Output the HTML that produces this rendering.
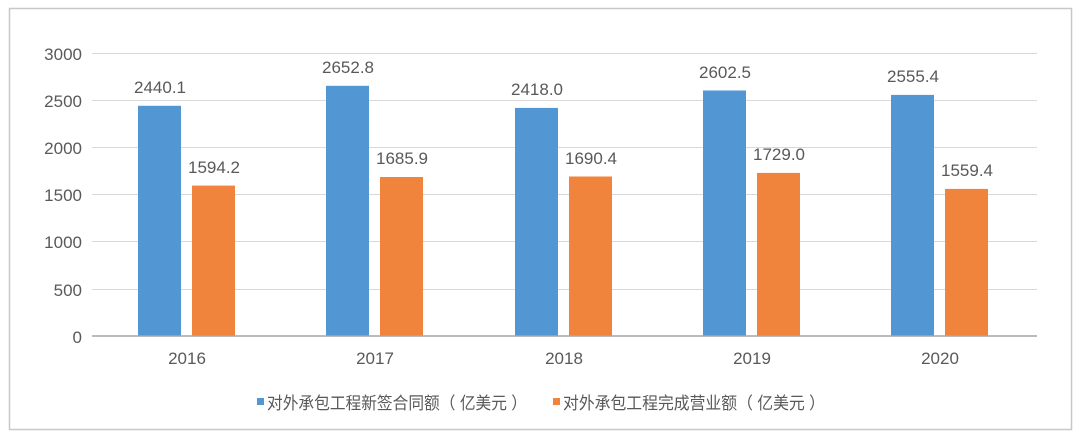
<!DOCTYPE html>
<html><head><meta charset="utf-8"><style>
body{margin:0;background:#fff;}
svg{display:block;font-family:"Liberation Sans","Noto Sans CJK SC",sans-serif;}
</style></head><body>
<svg width="1080" height="440" viewBox="0 0 1080 440">
<rect x="0" y="0" width="1080" height="440" fill="#fff"/>
<rect x="9.5" y="8.5" width="1062" height="421" fill="none" stroke="#c8c8c8" stroke-width="1.5"/>
<g stroke="#d9d9d9" stroke-width="1">
<line x1="92" x2="1037" y1="53.5" y2="53.5"/>
<line x1="92" x2="1037" y1="100.5" y2="100.5"/>
<line x1="92" x2="1037" y1="147.5" y2="147.5"/>
<line x1="92" x2="1037" y1="194.5" y2="194.5"/>
<line x1="92" x2="1037" y1="241.5" y2="241.5"/>
<line x1="92" x2="1037" y1="289.5" y2="289.5"/>
</g>
<g fill="#595959" font-size="17" text-anchor="end">
<text x="82" y="60">3000</text>
<text x="82" y="107">2500</text>
<text x="82" y="154">2000</text>
<text x="82" y="201">1500</text>
<text x="82" y="248">1000</text>
<text x="82" y="296">500</text>
<text x="82" y="343">0</text>
</g>
<g fill="#5296d3">
<rect x="138" y="105.8" width="43" height="230.2"/>
<rect x="326" y="85.8" width="43" height="250.2"/>
<rect x="515" y="107.9" width="43" height="228.1"/>
<rect x="703" y="90.5" width="43" height="245.5"/>
<rect x="891" y="94.9" width="43" height="241.1"/>
</g>
<g fill="#f0843c">
<rect x="192" y="185.6" width="43" height="150.4"/>
<rect x="380" y="177.0" width="43" height="159.0"/>
<rect x="569" y="176.5" width="43" height="159.5"/>
<rect x="757" y="172.9" width="43" height="163.1"/>
<rect x="945" y="188.9" width="43" height="147.1"/>
</g>
<g fill="#595959" font-size="17" text-anchor="middle">
<text x="160" y="93">2440.1</text>
<text x="214" y="173">1594.2</text>
<text x="348" y="73">2652.8</text>
<text x="402" y="164">1685.9</text>
<text x="537" y="95">2418.0</text>
<text x="591" y="164">1690.4</text>
<text x="725" y="78">2602.5</text>
<text x="779" y="160">1729.0</text>
<text x="913" y="82">2555.4</text>
<text x="967" y="176">1559.4</text>
<text x="187" y="364">2016</text>
<text x="375" y="364">2017</text>
<text x="564" y="364">2018</text>
<text x="752" y="364">2019</text>
<text x="940" y="364">2020</text>
</g>
<line x1="92" x2="1037" y1="336" y2="336" stroke="#a6a6a6" stroke-width="1.5"/>
<rect x="257" y="398" width="7" height="7" fill="#5296d3"/>
<text x="267" y="409" font-size="17" fill="#595959" textLength="260" lengthAdjust="spacingAndGlyphs">对外承包工程新签合同额（ 亿美元 ）</text>
<rect x="553" y="398" width="7" height="7" fill="#f0843c"/>
<text x="563" y="409" font-size="17" fill="#595959" textLength="262" lengthAdjust="spacingAndGlyphs">对外承包工程完成营业额（ 亿美元 ）</text>
</svg>
</body></html>
